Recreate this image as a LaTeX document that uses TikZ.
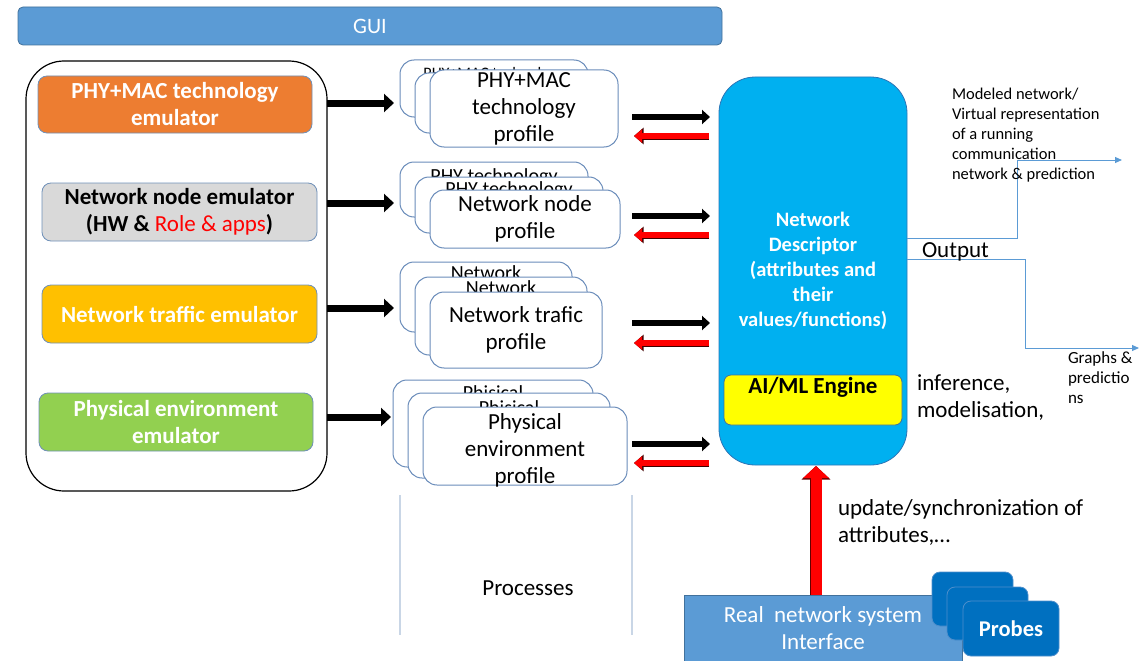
\documentclass[tikz,border=0pt]{standalone}
\usepackage{fontspec}
\setmainfont{Carlito}
\usetikzlibrary{arrows.meta}

\definecolor{guiblue}{HTML}{5B9BD5}
\definecolor{guiedge}{HTML}{41719C}
\definecolor{emuedge}{HTML}{6F90B8}
\definecolor{profedge}{HTML}{6A8CBA}
\definecolor{orangeemu}{HTML}{ED7D31}
\definecolor{greyemu}{HTML}{D9D9D9}
\definecolor{yellowemu}{HTML}{FFC000}
\definecolor{greenemu}{HTML}{92D050}
\definecolor{descfill}{HTML}{00B0F0}
\definecolor{descedge}{HTML}{2E75B6}
\definecolor{aiyellow}{HTML}{FFFF00}
\definecolor{probeblue}{HTML}{0070C0}
\definecolor{probeedge}{HTML}{4F8FCC}
\definecolor{proccol}{HTML}{C9D6E6}
\definecolor{arrowred}{HTML}{FF0000}

\newcommand\fsz[2]{\fontsize{#1}{#2}\selectfont}
% rounded box from its top-left (x1,y1) to its bottom-right (x2,y2), in pixels
\newcommand\rbox[7]{\node[#2,anchor=north west,minimum width={(#5-#3)*1pt},minimum height={(#6-#4)*1pt}] (#1) at (#3,#4) {#7};}

\tikzset{
  nodebase/.style={outer sep=0pt, inner sep=0pt, align=center},
  guibox/.style={nodebase, draw=guiedge, fill=guiblue, rounded corners=5pt, line width=0.8pt, text=white, font=\fsz{22}{26}},
  container/.style={nodebase, draw=black, rounded corners=38pt, line width=1.2pt},
  emubox/.style={nodebase, draw=emuedge, rounded corners=9pt, line width=0.8pt, font=\fsz{23}{27}\bfseries, text=white},
  profbox/.style={nodebase, draw=profedge, fill=white, rounded corners=14pt, line width=1pt, font=\fsz{23}{27}},
  proflabel/.style={nodebase, anchor=north, font=\fsz{20}{27}},
  descbox/.style={nodebase, draw=descedge, fill=descfill, rounded corners=36pt, line width=0.8pt, text=white, font=\fsz{20.5}{25}\bfseries},
  aibox/.style={nodebase, draw=guiedge, fill=aiyellow, rounded corners=7pt, line width=0.8pt},
  realbox/.style={nodebase, draw=guiedge, fill=guiblue, line width=0.8pt, text=white, font=\fsz{23}{27}},
  probebox/.style={nodebase, draw=probeedge, fill=probeblue, rounded corners=8pt, line width=0.8pt, text=white, font=\fsz{22.5}{26}\bfseries},
  txt/.style={nodebase, font=\fsz{23}{27}},
  feed/.style={draw=black, line width=7pt, -{Triangle[length=10pt,width=18pt]}},
  toward/.style={draw=black, line width=6pt, -{Triangle[length=8pt,width=14pt]}},
  feedback/.style={draw=arrowred, line width=5.5pt, -{Triangle[length=8pt,width=13pt]},
    preaction={draw=black!75!red, line width=7pt, -{Triangle[length=9.5pt,width=16pt]}}},
  uplink/.style={draw=arrowred, line width=11pt, -{Triangle[length=12pt,width=25pt]},
    preaction={draw=black!60!red, line width=12.5pt, -{Triangle[length=13.5pt,width=28pt]}}},
  outlink/.style={draw=guiblue, line width=1pt, -{Triangle[length=7pt,width=6pt]}},
  procrule/.style={draw=proccol, line width=1.2pt},
}

\begin{document}
\begin{tikzpicture}[x=1pt,y=-1pt]
\useasboundingbox (0,0) rectangle (1141,661);

% top bar
\rbox{gui}{guibox}{18}{7}{722}{45}{GUI}

% emulators
\rbox{emu}{container}{26}{61}{327}{491}{}
\rbox{phyemu}{emubox,fill=orangeemu}{38}{76}{312}{133}{PHY+MAC technology\\emulator}
\rbox{nodeemu}{emubox,fill=greyemu,text=black}{42}{183}{317}{241}{Network node emulator\\(HW \& {\color{arrowred}\mdseries Role \& apps})}
\rbox{trafemu}{emubox,fill=yellowemu}{42}{285}{317}{343}{Network traffic emulator}
\rbox{physemu}{emubox,fill=greenemu}{39}{393}{313}{451}{Physical environment\\emulator}

% profile stacks
\rbox{p1a}{profbox}{400}{60}{588}{117}{}
\node[proflabel, font=\fsz{16}{20}] at (494,67) {PHY+MAC technology};
\rbox{p1b}{profbox}{415}{73}{603}{133}{}
\rbox{p1c}{profbox}{430}{70}{618}{147}{PHY+MAC\\technology\\profile}

\rbox{p2a}{profbox}{400}{162}{588}{217}{}
\node[proflabel] at (494,169) {PHY technology};
\rbox{p2b}{profbox}{415}{177}{603}{233}{}
\node[proflabel] at (509,182) {PHY technology};
\rbox{p2c}{profbox}{430}{190}{620}{248}{Network node\\profile}

\rbox{p3a}{profbox}{400}{262}{572}{332}{}
\node[proflabel] at (486,266) {Network};
\rbox{p3b}{profbox}{415}{277}{587}{355}{}
\node[proflabel] at (501,281) {Network};
\rbox{p3c}{profbox}{430}{292}{602}{368}{Network trafic\\profile}

\rbox{p4a}{profbox}{393}{380}{593}{467}{}
\node[proflabel] at (493,386) {Phisical};
\rbox{p4b}{profbox}{408}{393}{610}{478}{}
\node[proflabel] at (509,401) {Phisical};
\rbox{p4c}{profbox}{423}{407}{627}{485}{}
\node[proflabel, font=\fsz{23}{27}] at (525,414) {Physical\\environment\\profile};

% process columns
\coordinate (procLtop) at (400,495);
\coordinate (procLbot) at (400,635);
\coordinate (procRtop) at (632,495);
\coordinate (procRbot) at (632,635);
\draw[procrule] (procLtop) -- (procLbot);
\draw[procrule] (procRtop) -- (procRbot);
\node[txt] (proc) at (528,588) {Processes};

% network descriptor and engine
\rbox{nd}{descbox}{719}{77}{907}{465}{Network\\Descriptor\\(attributes and\\their\\values/functions)}
\rbox{ai}{aibox}{724}{375}{902}{425}{}
\node[nodebase, anchor=north, font=\fsz{23}{26}\bfseries] (ailabel) at ([yshift=-2pt]ai.north) {AI/ML Engine};

% real network side
\rbox{real}{realbox}{684}{595}{962}{661}{Real\ \ network system\\Interface}
\rbox{pr1}{probebox}{932}{572}{1013}{626}{}
\rbox{pr2}{probebox}{947}{587}{1028}{640}{}
\rbox{pr3}{probebox}{963}{601}{1059}{656}{Probes}

% emulators feeding the profiles
\draw[feed, shorten >=6pt] (emu.east |- 0,103) -- (p1a.west |- 0,103);
\draw[feed, shorten >=6pt] (emu.east |- 0,203) -- (p2a.west |- 0,203);
\draw[feed, shorten >=6pt] (emu.east |- 0,308) -- (p3a.west |- 0,308);
\draw[feed, shorten >=2pt] (emu.east |- 0,417) -- (p4a.west |- 0,417);

% profiles <-> descriptor
\draw[toward, shorten >=9pt] (procRtop |- 0,117) -- (nd.west |- 0,117);
\draw[feedback, shorten <=10pt, shorten >=2pt] (nd.west |- 0,136) -- (procRtop |- 0,136);
\draw[toward, shorten >=9pt] (procRtop |- 0,216) -- (nd.west |- 0,216);
\draw[feedback, shorten <=10pt, shorten >=2pt] (nd.west |- 0,235) -- (procRtop |- 0,235);
\draw[toward, shorten >=9pt] (procRtop |- 0,323) -- (nd.west |- 0,323);
\draw[feedback, shorten <=10pt, shorten >=2pt] (nd.west |- 0,343) -- (procRtop |- 0,343);
\draw[toward, shorten >=9pt] (procRtop |- 0,444) -- (nd.west |- 0,444);
\draw[feedback, shorten <=10pt, shorten >=2pt] (nd.west |- 0,463) -- (procRtop |- 0,463);

% synchronisation from the real network
\draw[uplink, shorten >=1pt] (real.north -| 816,0) -- (nd.south -| 816,0);
\node[txt, anchor=west, align=left] (synclabel) at (838,522) {update/synchronization of\\attributes,\dots};

% outputs
\coordinate (out1) at (1122,160);
\coordinate (out2) at (1139,348);
\draw[outlink] (nd.east |- 0,238) -| (1017,160) -- (out1);
\draw[outlink] (nd.east |- 0,259) -| (1025,348) -- (out2);
\node[txt, anchor=west] (outlabel) at (922,252) {Output};
\node[nodebase, anchor=west, align=left, font=\fsz{16.5}{20}] (modeled) at (952,135)
  {Modeled network/\\Virtual representation\\of a running\\communication\\network \& prediction};
\node[nodebase, anchor=west, align=left, font=\fsz{17}{20}] (graphs) at (1068,378) {Graphs \&\\predictio\\ns};
\node[txt, anchor=west, align=left] (inflabel) at (917,398) {inference,\\modelisation,};
\end{tikzpicture}
\end{document}
